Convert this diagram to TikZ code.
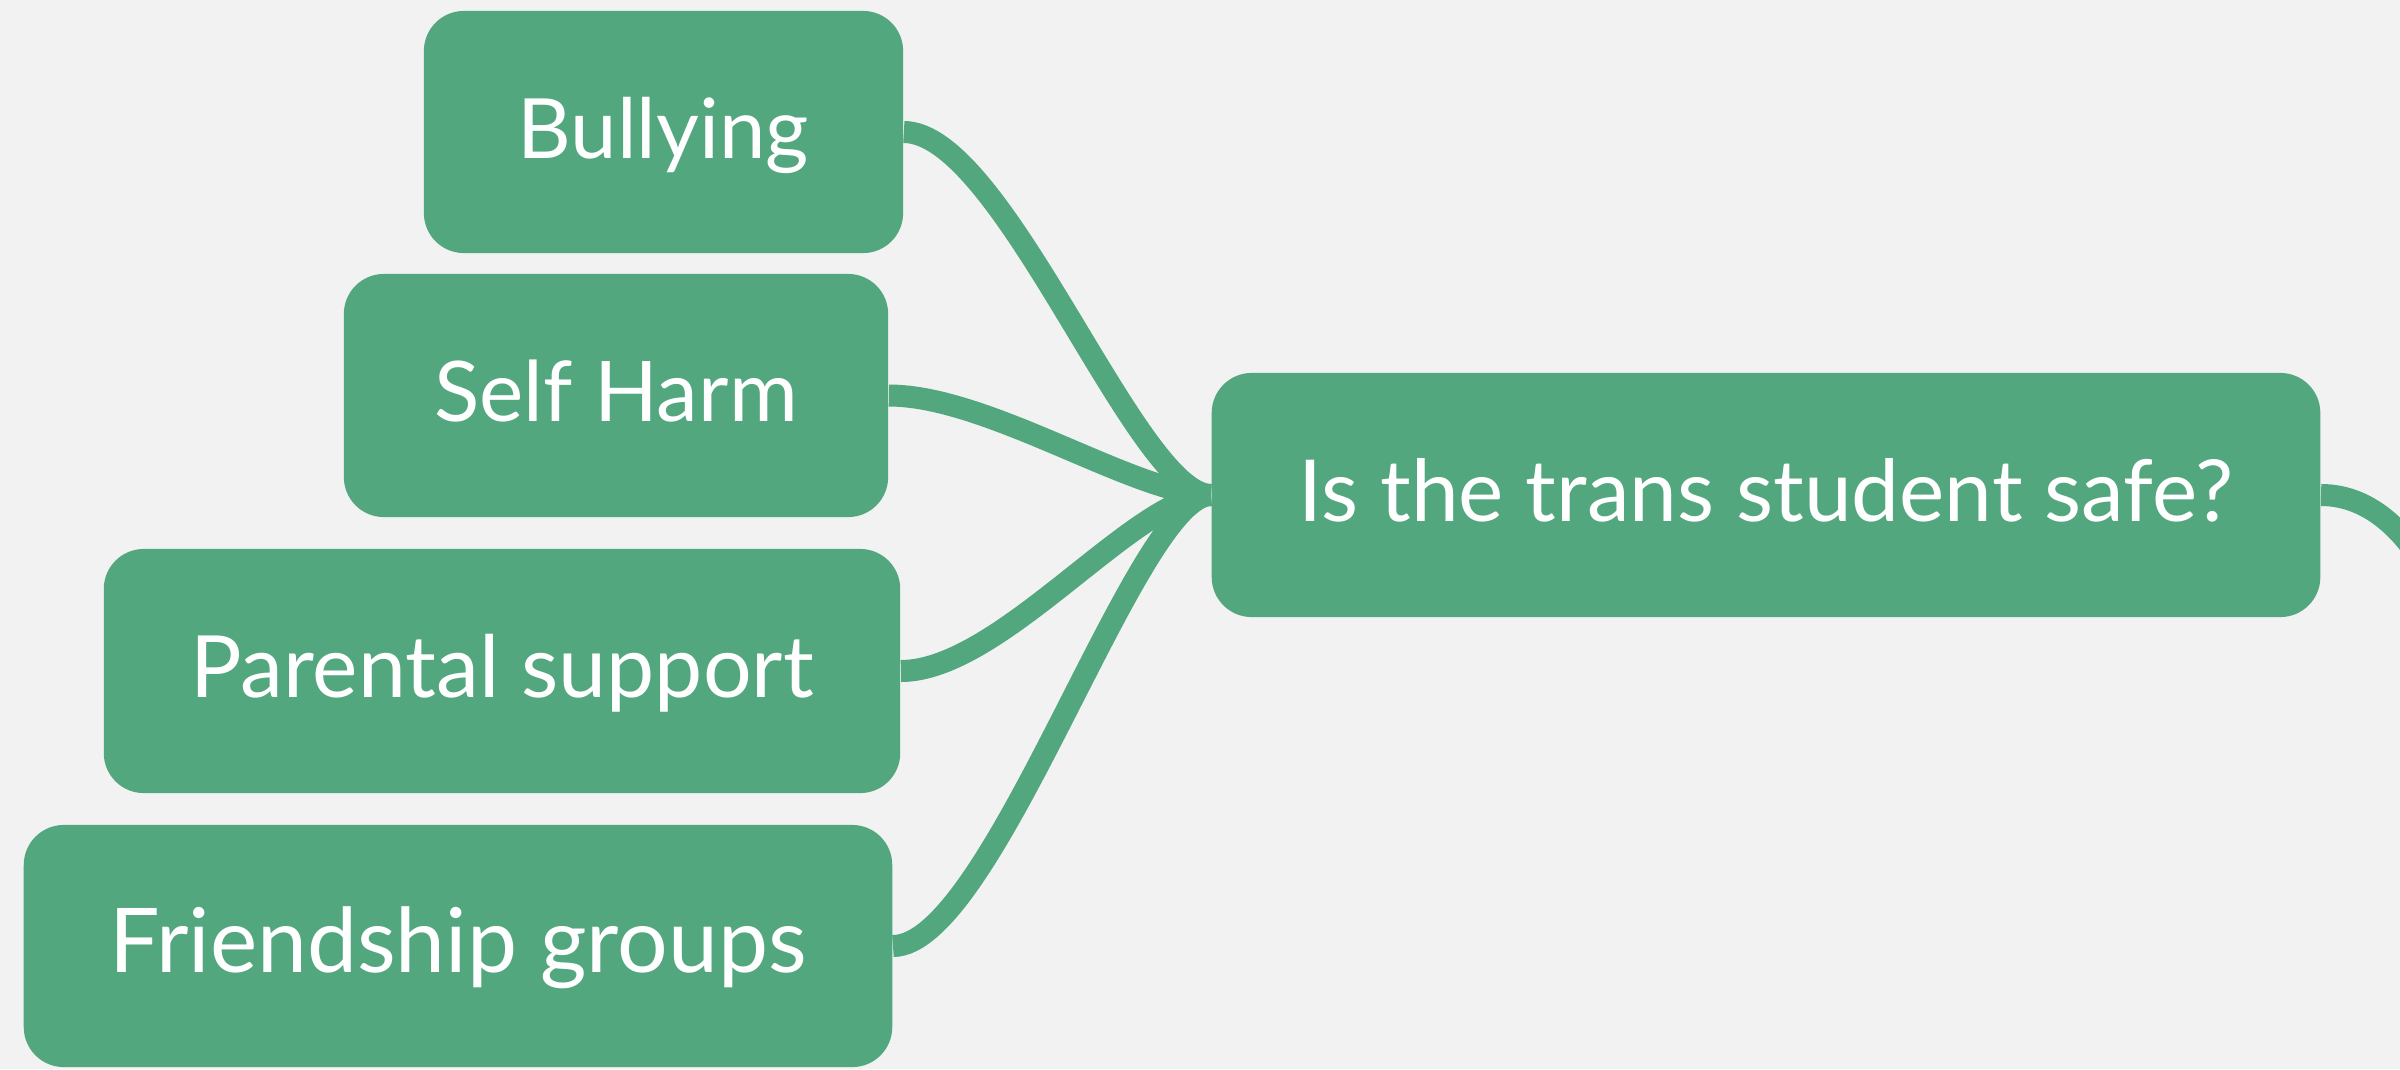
\documentclass[tikz,border=0pt]{standalone}
\usepackage{fontspec}
\usepackage{graphicx}
\setmainfont{Lato}
\usetikzlibrary{backgrounds}
\definecolor{topicgreen}{HTML}{52A77E}
\definecolor{paper}{HTML}{F2F2F2}
% label set to a given printed width
\newcommand{\fitlabel}[2]{\resizebox{#1}{!}{#2}}
\tikzset{
  topic/.style={rectangle, rounded corners=0.40cm, fill=topicgreen, text=white,
    inner sep=0pt, font=\fontsize{26}{30}\selectfont, text height=0.52cm, text depth=0pt},
  branch/.style={draw=topicgreen, line width=0.22cm, line cap=butt}
}
\begin{document}
\begin{tikzpicture}[x=0.01cm, y=-0.01cm]
  \useasboundingbox (0,0) rectangle (2400,1069);
  \clip (0,0) rectangle (2400,1069);
  % central topic and its subtopics
  \node[topic, minimum width=11.08cm, minimum height=2.44cm] (main) at (1766,495) {\fitlabel{9.34cm}{Is the trans student safe?}};
  \node[topic, minimum width=4.79cm, minimum height=2.42cm] (bully) at (663.5,132) {\fitlabel{2.91cm}{Bullying}};
  \node[topic, minimum width=5.44cm, minimum height=2.43cm] (harm) at (616,395.5) {\fitlabel{3.63cm}{Self Harm}};
  \node[topic, minimum width=7.96cm, minimum height=2.44cm] (parent) at (502,671) {\fitlabel{6.23cm}{Parental support}};
  \node[topic, minimum width=8.68cm, minimum height=2.42cm] (friend) at (458,946) {\fitlabel{6.97cm}{Friendship groups}};
  \coordinate (next) at (2480,800);
  \begin{scope}[on background layer]
    \fill[paper] (0,0) rectangle (2400,1069);
    \draw[branch] (bully.east) .. controls +(100,0) and +(-75,0) .. (main.west);
    \draw[branch] (harm.east) .. controls +(100,0) and +(-75,0) .. (main.west);
    \draw[branch] (parent.east) .. controls +(100,0) and +(-75,0) .. (main.west);
    \draw[branch] (friend.east) .. controls +(100,0) and +(-75,0) .. (main.west);
    \draw[branch] (main.east) .. controls +(100,0) and +(0,-150) .. (next);
  \end{scope}
\end{tikzpicture}
\end{document}
